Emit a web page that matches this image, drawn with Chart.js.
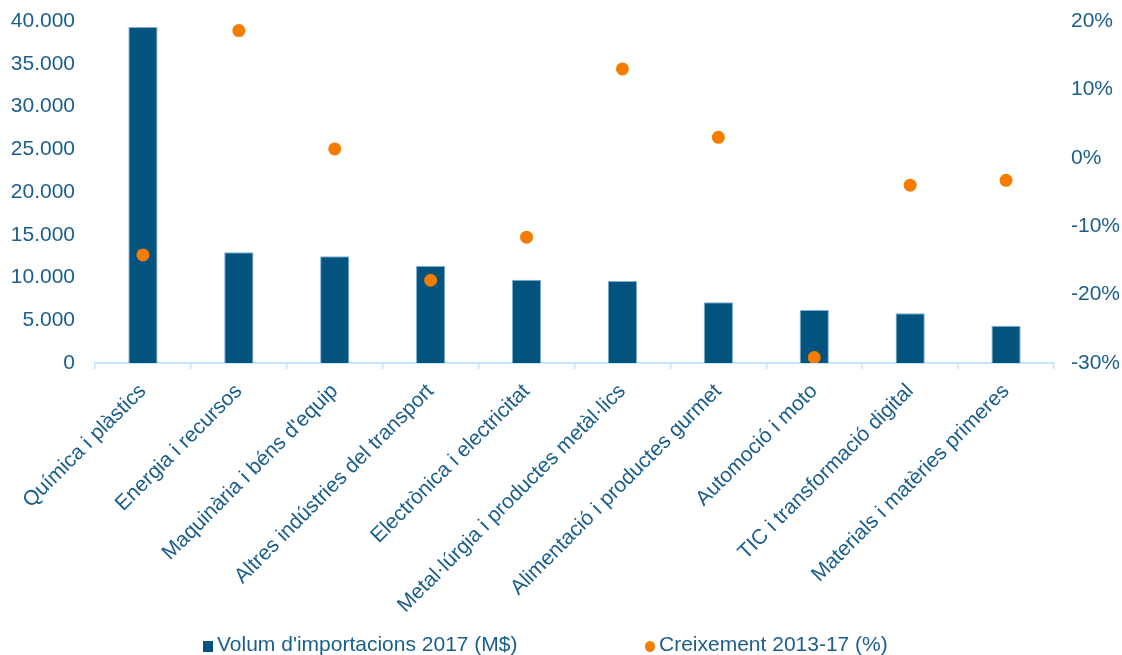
<!DOCTYPE html>
<html>
<head>
<meta charset="utf-8">
<script src="https://cdn.jsdelivr.net/npm/chart.js@4.4.1/dist/chart.umd.min.js"></script>
<style>
  html, body { margin: 0; padding: 0; background: #ffffff; }
  #wrap { position: relative; width: 1122px; height: 655px; }
  #legend { position: absolute; left: 0; top: 632px; width: 1122px; height: 24px;
            font-family: "Liberation Sans", Arial, sans-serif; font-size: 21px; color: #1B5E8C; }
  .item { position: absolute; top: 0; white-space: nowrap; line-height: 24px; }
  .sw { display: inline-block; width: 10px; height: 11px; margin-right: 4px; vertical-align: -1px; }
</style>
</head>
<body>
<div id="wrap">
  <canvas id="c" width="1122" height="655"></canvas>
  <div id="legend"></div>
</div>
<script>
const categories = [
  "Química i plàstics",
  "Energia i recursos",
  "Maquinària i béns d'equip",
  "Altres indústries del transport",
  "Electrònica i electricitat",
  "Metal·lúrgia i productes metàl·lics",
  "Alimentació i productes gurmet",
  "Automoció i moto",
  "TIC i transformació digital",
  "Materials i matèries primeres"
];
const volumLabel = "Volum d'importacions 2017 (M$)";
const volum = [39300, 12950, 12480, 11350, 9740, 9590, 7100, 6200, 5810, 4360];
const creixLabel = "Creixement 2013-17 (%)";
const creixement = [-14.2, 18.6, 1.3, -17.9, -11.6, 13.0, 3.0, -29.2, -4.0, -3.3];

const BLUE = '#02547F';
const ORANGE = '#F47D00';
const TEXT = '#1B5E8C';
const AXIS = '#C9E4F8';
const FONT = "'Liberation Sans', Arial, sans-serif";

function fmtThousands(v) {
  return String(Math.round(v)).replace(/\B(?=(\d{3})+(?!\d))/g, '.');
}

const chart = new Chart(document.getElementById('c'), {
  type: 'bar',
  data: {
    labels: categories,
    datasets: [
      {
        type: 'line',
        label: creixLabel,
        data: creixement,
        yAxisID: 'y1',
        showLine: false,
        pointRadius: 6.5,
        pointHoverRadius: 6.5,
        pointBackgroundColor: ORANGE,
        pointBorderColor: ORANGE,
        pointBorderWidth: 0,
        order: 0
      },
      {
        type: 'bar',
        label: volumLabel,
        data: volum,
        yAxisID: 'y',
        backgroundColor: BLUE,
        borderColor: '#7FAFD2',
        borderWidth: 1,
        barPercentage: 0.305,
        categoryPercentage: 1.0,
        order: 1
      }
    ]
  },
  options: {
    responsive: false,
    animation: false,
    devicePixelRatio: 1,
    layout: { padding: { top: 21, bottom: 0, left: 0, right: 0 } },
    plugins: {
      legend: { display: false },
      tooltip: { enabled: false }
    },
    scales: {
      x: {
        offset: true,
        grid: { display: true, drawOnChartArea: false, drawTicks: true, tickLength: 6, color: AXIS, lineWidth: 1.5, offset: true },
        border: { display: true, color: AXIS, width: 2 },
        ticks: { color: TEXT, font: { family: FONT, size: 21 }, minRotation: 45, maxRotation: 45, autoSkip: false, padding: 10 },
        afterFit: (s) => { s.height = 292; s.paddingLeft = 0; s.paddingRight = 0; }
      },
      y: {
        position: 'left',
        min: 0, max: 40000,
        grid: { display: false, drawTicks: false },
        border: { display: false },
        ticks: { stepSize: 5000, color: TEXT, font: { family: FONT, size: 21 }, padding: 20,
                 callback: (v) => fmtThousands(v) },
        afterFit: (s) => { s.width = 95; s.paddingTop = 0; s.paddingBottom = 0; }
      },
      y1: {
        position: 'right',
        min: -30, max: 20,
        grid: { display: false, drawTicks: false },
        border: { display: false },
        ticks: { stepSize: 10, color: TEXT, font: { family: FONT, size: 21 }, padding: 17,
                 callback: (v) => v + '%' },
        afterFit: (s) => { s.width = 68; s.paddingTop = 0; s.paddingBottom = 0; }
      }
    }
  }
});

// HTML legend built from the chart's datasets
const legend = document.getElementById('legend');
const items = [
  { text: volumLabel, color: BLUE, round: false, left: 203 },
  { text: creixLabel, color: ORANGE, round: true, left: 645 }
];
items.forEach(it => {
  const d = document.createElement('div');
  d.className = 'item';
  d.style.left = it.left + 'px';
  const sw = document.createElement('span');
  sw.className = 'sw';
  sw.style.background = it.color;
  if (it.round) sw.style.borderRadius = '50%';
  d.appendChild(sw);
  d.appendChild(document.createTextNode(it.text));
  legend.appendChild(d);
});
</script>
</body>
</html>
